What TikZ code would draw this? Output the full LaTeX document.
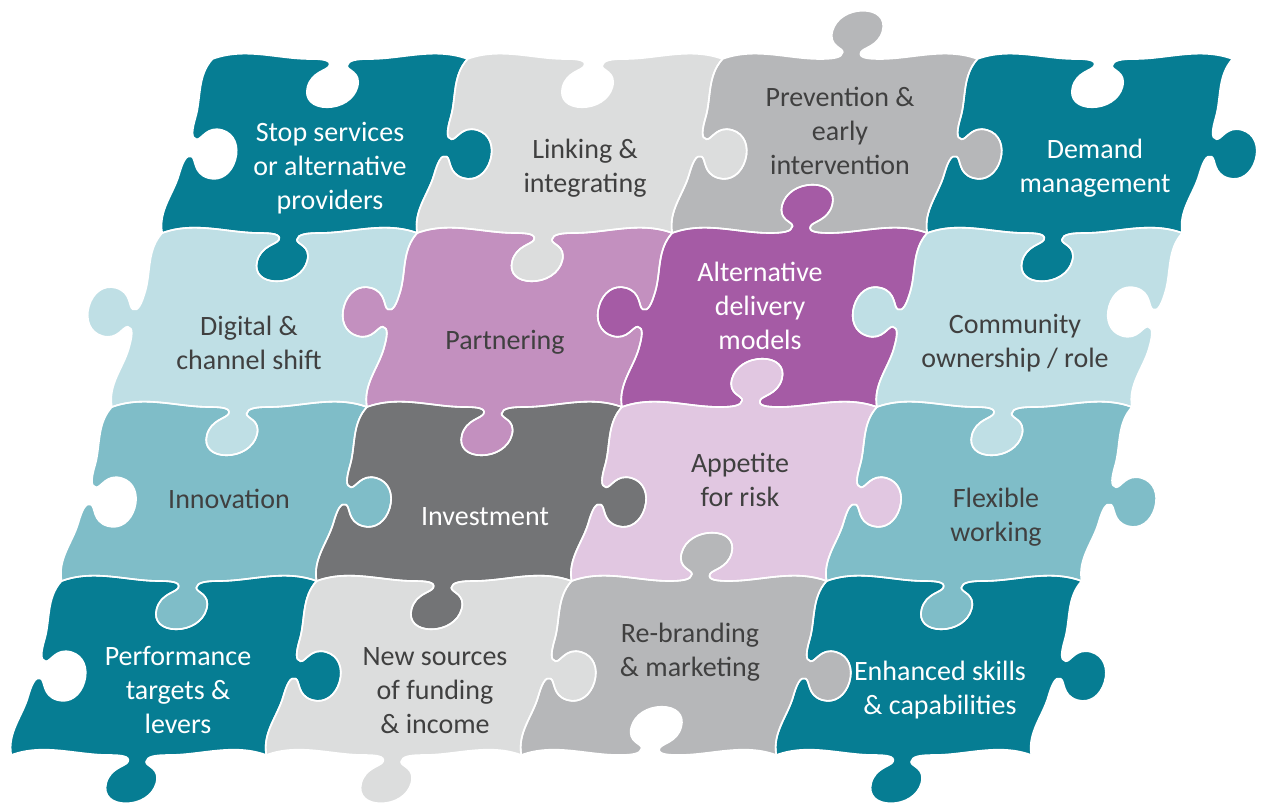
\documentclass[tikz,border=0pt]{standalone}
\usepackage{fontspec}
\setmainfont{Carlito}
\definecolor{cTeal}{HTML}{067D93}
\definecolor{cLBlue}{HTML}{BFDFE5}
\definecolor{cMBlue}{HTML}{7FBDC8}
\definecolor{cLGray}{HTML}{DCDDDD}
\definecolor{cGray}{HTML}{B6B7B9}
\definecolor{cDGray}{HTML}{737476}
\definecolor{cPink}{HTML}{C390BF}
\definecolor{cPurple}{HTML}{A55BA5}
\definecolor{cLPink}{HTML}{E1C7E1}
\definecolor{cText}{HTML}{404040}
\makeatletter
\newcommand\getxy[3]{\pgfpointanchor{#1}{center}\edef#2{\strip@pt\pgf@x}\edef#3{\strip@pt\pgf@y}}
\makeatother
\newcommand\setpt[3]{\pgfmathsetmacro\tpx{#2}\pgfmathsetmacro\tpy{#3}\coordinate (\ename-#1) at (\tpx pt,\tpy pt);}
\newcommand\tabpt[3]{\setpt{#1}{(\eCx)+(#2)*(\eUx)+(#3)*(\eVx)}{(\eCy)+(#2)*(\eUy)+(#3)*(\eVy)}}
\newcommand\mkedge[6]{%
  \getxy{#2}\eAx\eAy
  \getxy{#3}\eBx\eBy
  \pgfmathsetmacro\eL{veclen((\eBx)-(\eAx),(\eBy)-(\eAy))}%
  \pgfmathsetmacro\eUx{((\eBx)-(\eAx))/\eL}%
  \pgfmathsetmacro\eUy{((\eBy)-(\eAy))/\eL}%
  \pgfmathsetmacro\eVx{(\eUx)*cos(#4)-(\eUy)*sin(#4)}%
  \pgfmathsetmacro\eVy{(\eUx)*sin(#4)+(\eUy)*cos(#4)}%
  \pgfmathsetmacro\eNx{0-(\eUy)}%
  \pgfmathsetmacro\eNy{\eUx}%
  \pgfmathsetmacro\eCx{((\eAx)+(\eBx))/2}%
  \pgfmathsetmacro\eCy{((\eAy)+(\eBy))/2}%
  \pgfmathsetmacro\eH{(\eL/2-30)/3}%
  \edef\ename{#1}%
  \coordinate (\ename-A) at (#2);
  \coordinate (\ename-B) at (#3);
  \setpt{ca}{(\eAx)+\eH*(\eUx)+(#5)*(\eNx)}{(\eAy)+\eH*(\eUy)+(#5)*(\eNy)}
  \setpt{cb}{(\eAx)+2*\eH*(\eUx)}{(\eAy)+2*\eH*(\eUy)}
  \setpt{cc}{(\eBx)-2*\eH*(\eUx)}{(\eBy)-2*\eH*(\eUy)}
  \setpt{cd}{(\eBx)-\eH*(\eUx)+(#6)*(\eNx)}{(\eBy)-\eH*(\eUy)+(#6)*(\eNy)}
  \tabpt{p0}{-30}{0}
  \tabpt{q1}{-18}{0}\tabpt{q2}{-8}{1}\tabpt{p1}{-9}{7}
  \tabpt{q3}{-10}{12}\tabpt{q4}{-25}{13}\tabpt{p2}{-25}{29}
  \tabpt{q5}{-25}{42}\tabpt{q6}{-14}{50}\tabpt{p3}{0}{50}
  \tabpt{q7}{14}{50}\tabpt{q8}{25}{42}\tabpt{p4}{25}{29}
  \tabpt{q9}{25}{13}\tabpt{q10}{10}{12}\tabpt{p5}{9}{7}
  \tabpt{q11}{8}{1}\tabpt{q12}{18}{0}\tabpt{p6}{30}{0}
}
\newcommand\EdgeF[1]{.. controls (#1-ca) and (#1-cb) .. (#1-p0) .. controls (#1-q1) and (#1-q2) .. (#1-p1) .. controls (#1-q3) and (#1-q4) .. (#1-p2) .. controls (#1-q5) and (#1-q6) .. (#1-p3) .. controls (#1-q7) and (#1-q8) .. (#1-p4) .. controls (#1-q9) and (#1-q10) .. (#1-p5) .. controls (#1-q11) and (#1-q12) .. (#1-p6) .. controls (#1-cc) and (#1-cd) .. (#1-B)}
\newcommand\EdgeR[1]{.. controls (#1-cd) and (#1-cc) .. (#1-p6) .. controls (#1-q12) and (#1-q11) .. (#1-p5) .. controls (#1-q10) and (#1-q9) .. (#1-p4) .. controls (#1-q8) and (#1-q7) .. (#1-p3) .. controls (#1-q6) and (#1-q5) .. (#1-p2) .. controls (#1-q4) and (#1-q3) .. (#1-p1) .. controls (#1-q2) and (#1-q1) .. (#1-p0) .. controls (#1-cb) and (#1-ca) .. (#1-A)}
\tikzset{
  lbl/.style={align=center, font=\fontsize{28}{34}\selectfont, inner sep=0pt},
  dark/.style={lbl, text=cText},
  light/.style={lbl, text=white},
  seam/.style={draw=white, line width=1.6pt, line join=round}
}
\begin{document}
\begin{tikzpicture}[x=1pt,y=-1pt]
\useasboundingbox (0,0) rectangle (1264,803);
% corners
\foreach \r/\y in {0/59,1/233,2/407,3/581,4/755}{
  \foreach \c in {0,...,4}{
    \coordinate (k\r\c) at ({212.5-50.3*\r+255*\c},\y);
  }
}
% horizontal edges (left to right): tab angle
\foreach \r in {0,...,4}{
  \foreach \c/\a in {0/-105,1/-105,2/75,3/-105}{
    \pgfmathtruncatemacro\cn{\c+1}
    \mkedge{h\r\c}{k\r\c}{k\r\cn}{\a}{12}{12}
  }
}
% vertical edges (top to bottom)
\foreach \r/\a in {0/90,1/-90,2/90,3/90}{
  \foreach \c in {0,...,4}{
    \pgfmathtruncatemacro\rn{\r+1}
    \mkedge{v\r\c}{k\r\c}{k\rn\c}{\a}{-10}{-10}
  }
}
% pieces
\foreach \r/\c/\col in {0/0/cTeal,0/1/cLGray,0/2/cGray,0/3/cTeal,
                        1/0/cLBlue,1/1/cPink,1/2/cPurple,1/3/cLBlue,
                        2/0/cMBlue,2/1/cDGray,2/2/cLPink,2/3/cMBlue,
                        3/0/cTeal,3/1/cLGray,3/2/cGray,3/3/cTeal}{
  \pgfmathtruncatemacro\rn{\r+1}
  \pgfmathtruncatemacro\cn{\c+1}
  \fill[\col] (h\r\c-A) \EdgeF{h\r\c} \EdgeF{v\r\cn} \EdgeR{h\rn\c} \EdgeR{v\r\c} -- cycle;
}
\foreach \r in {0,...,3}{
  \foreach \c in {0,...,3}{
    \pgfmathtruncatemacro\rn{\r+1}
    \pgfmathtruncatemacro\cn{\c+1}
    \path[seam] (h\r\c-A) \EdgeF{h\r\c} \EdgeF{v\r\cn} \EdgeR{h\rn\c} \EdgeR{v\r\c} -- cycle;
  }
}
% labels
\node[light] (stop) at (330,168) {Stop services\\or alternative\\providers};
\node[dark] (link) at (585,168) {Linking \&\\integrating};
\node[dark] (prev) at (840,131) {Prevention \&\\early\\intervention};
\node[light] (dem) at (1095,168) {Demand\\management};
\node[dark] (dig) at (249,343) {Digital \&\\channel shift};
\node[dark] (part) at (505,342) {Partnering};
\node[light] (alt) at (760,306) {Alternative\\delivery\\models};
\node[dark] (comm) at (1015,343) {Community\\ownership / role};
\node[dark] (innov) at (229,499) {Innovation};
\node[light] (invest) at (485,517) {Investment};
\node[dark] (appet) at (740,480) {Appetite\\for risk};
\node[dark] (flex) at (996,517) {Flexible\\working};
\node[light] (perf) at (178,690) {Performance\\targets \&\\levers};
\node[dark] (newsrc) at (435,691) {New sources\\of funding\\\& income};
\node[dark] (rebrand) at (690,652) {Re-branding\\\& marketing};
\node[light] (skills) at (940,690) {Enhanced skills\\\& capabilities};
\end{tikzpicture}
\end{document}
